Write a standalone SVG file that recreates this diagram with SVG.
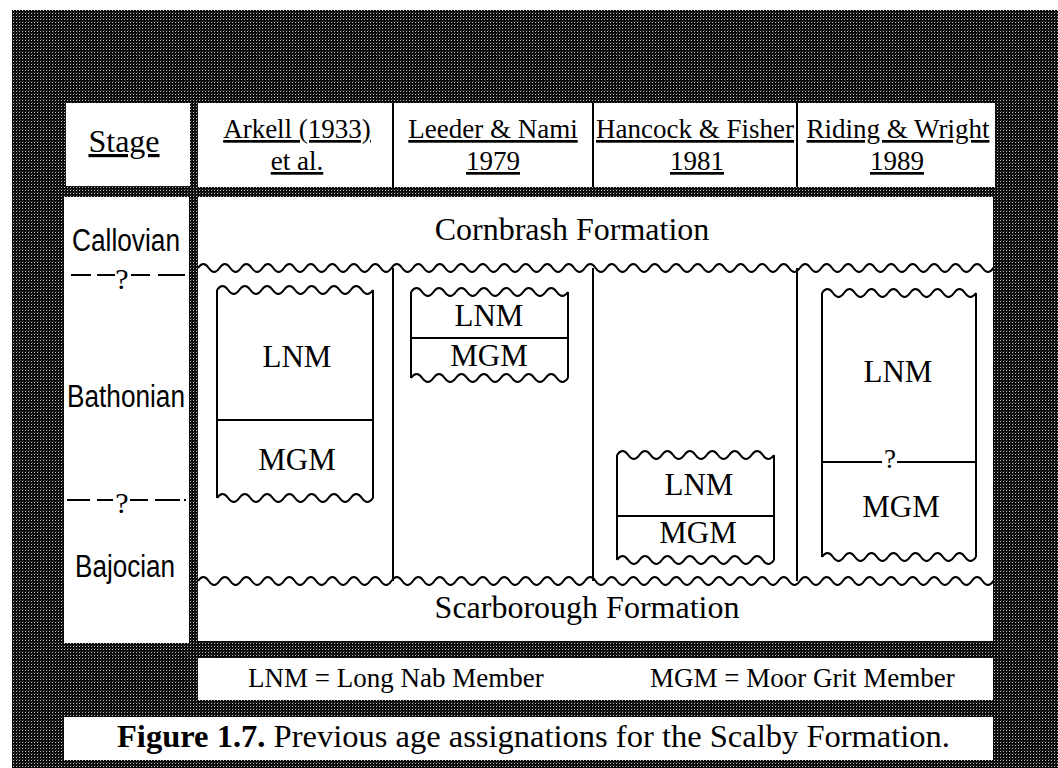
<svg xmlns="http://www.w3.org/2000/svg" xmlns:xlink="http://www.w3.org/1999/xlink" width="1058" height="768" viewBox="0 0 1058 768">
<style>
.ser{font-family:"Liberation Serif","Times New Roman",serif;fill:#000}
.san{font-family:"Liberation Sans",Arial,sans-serif;fill:#000}
.hd{font-size:27px;text-anchor:middle;text-decoration:underline}
.mem{font-size:31px;text-anchor:middle}
.stg{font-size:31px}
.ln{stroke:#000;stroke-width:2;fill:none}
.wv{stroke:#000;stroke-width:2;fill:none;vector-effect:non-scaling-stroke}
</style>
<defs>
<pattern id="dots" width="3" height="3" patternUnits="userSpaceOnUse">
<rect width="3" height="3" fill="#080808"/>
<rect x="1" y="1" width="1" height="1" fill="#c0c0c0"/>
<rect x="2" y="0" width="1" height="1" fill="#3a3a3a"/>
</pattern>
<clipPath id="bodyclip"><rect x="197" y="197" width="797" height="444"/></clipPath>
<path id="w14" d="M0 0 q5.5 -8 11 0 t11 0 11 0 11 0 11 0 11 0 11 0 11 0 11 0 11 0 11 0 11 0 11 0 11 0"/>
<path id="w72" d="M0 0 q5.5 -8 11 0 t11 0 11 0 11 0 11 0 11 0 11 0 11 0 11 0 11 0 11 0 11 0 11 0 11 0 11 0 11 0 11 0 11 0 11 0 11 0 11 0 11 0 11 0 11 0 11 0 11 0 11 0 11 0 11 0 11 0 11 0 11 0 11 0 11 0 11 0 11 0 11 0 11 0 11 0 11 0 11 0 11 0 11 0 11 0 11 0 11 0 11 0 11 0 11 0 11 0 11 0 11 0 11 0 11 0 11 0 11 0 11 0 11 0 11 0 11 0 11 0 11 0 11 0 11 0 11 0 11 0 11 0 11 0 11 0 11 0 11 0 11 0 11 0 11 0 11 0 11 0"/>
</defs>
<rect width="1058" height="768" fill="#fff"/>
<rect x="12" y="10" width="1046" height="758" fill="url(#dots)"/>

<g id="panels">
<rect x="66" y="103" width="124" height="83" fill="#fff"/>
<rect x="198" y="103" width="797" height="84" fill="#fff"/>
<rect x="64" y="197" width="125" height="446" fill="#fff"/>
<rect x="198" y="197" width="795" height="444" fill="#fff"/>
<rect x="198" y="658" width="795" height="42" fill="#fff"/>
<rect x="64" y="717" width="929" height="43" fill="#fff"/>
</g>

<g id="header">
<text class="ser" x="124" y="152" font-size="32" text-anchor="middle" text-decoration="underline">Stage</text>
<text class="ser hd" x="297" y="138">Arkell (1933)</text>
<text class="ser hd" x="297" y="170">et al.</text>
<text class="ser hd" x="493" y="138">Leeder &amp; Nami</text>
<text class="ser hd" x="493" y="170">1979</text>
<text class="ser hd" x="695" y="138">Hancock &amp; Fisher</text>
<text class="ser hd" x="697" y="170">1981</text>
<text class="ser hd" x="898" y="138">Riding &amp; Wright</text>
<text class="ser hd" x="897" y="170">1989</text>
<line class="ln" x1="393" y1="103" x2="393" y2="187"/>
<line class="ln" x1="593" y1="103" x2="593" y2="187"/>
<line class="ln" x1="797" y1="103" x2="797" y2="187"/>
</g>

<g id="stages">
<text class="san stg" x="72" y="251" textLength="108" lengthAdjust="spacingAndGlyphs">Callovian</text>
<text class="san stg" x="67" y="407" textLength="118" lengthAdjust="spacingAndGlyphs">Bathonian</text>
<text class="san stg" x="75" y="577" textLength="100" lengthAdjust="spacingAndGlyphs">Bajocian</text>
<path class="ln" d="M71 275 H91 M97 275 H115 M131 275 H150 M158 275 H185"/>
<text class="ser" x="122" y="289" font-size="30" text-anchor="middle">?</text>
<path class="ln" d="M67 500 H90 M97 500 H113 M130 500 H148 M155 500 H180 M184 500 H186"/>
<text class="ser" x="122" y="513" font-size="30" text-anchor="middle">?</text>
</g>

<g id="formations">
<text class="ser" x="572" y="240" font-size="32" text-anchor="middle">Cornbrash Formation</text>
<text class="ser" x="587" y="618" font-size="32" text-anchor="middle">Scarborough Formation</text>
</g>

<g id="connectors">
<g clip-path="url(#bodyclip)">
<use href="#w72" class="wv" transform="translate(198 268) scale(0.977 1)"/>
<use href="#w72" class="wv" transform="translate(198 581) scale(0.977 1)"/>
</g>
<line class="ln" x1="393" y1="268" x2="393" y2="581"/>
<line class="ln" x1="593" y1="268" x2="593" y2="581"/>
<line class="ln" x1="797" y1="268" x2="797" y2="581"/>
</g>

<g id="arkell">
<use href="#w14" class="wv" transform="translate(217 290) scale(1.013 1)"/>
<use href="#w14" class="wv" transform="translate(217 498) scale(1.013 1)"/>
<path class="ln" d="M217 290 V498 M373 290 V498 M217 420 H373"/>
<text class="ser mem" x="297" y="367">LNM</text>
<text class="ser mem" x="297" y="470">MGM</text>
</g>

<g id="leeder">
<use href="#w14" class="wv" transform="translate(411 292) scale(1.0195 1)"/>
<use href="#w14" class="wv" transform="translate(411 378) scale(1.0195 1)"/>
<path class="ln" d="M411 292 V378 M568 292 V378 M411 338 H568"/>
<text class="ser mem" x="489" y="326">LNM</text>
<text class="ser mem" x="489" y="366">MGM</text>
</g>

<g id="hancock">
<use href="#w14" class="wv" transform="translate(617 455) scale(1.0195 1)"/>
<use href="#w14" class="wv" transform="translate(617 560) scale(1.0195 1)"/>
<path class="ln" d="M617 455 V560 M774 455 V560 M617 516 H774"/>
<text class="ser mem" x="699" y="495">LNM</text>
<text class="ser mem" x="698" y="543">MGM</text>
</g>

<g id="riding">
<use href="#w14" class="wv" transform="translate(822 293)"/>
<use href="#w14" class="wv" transform="translate(822 557)"/>
<path class="ln" d="M822 293 V557 M976 293 V557 M822 462 H882 M897 462 H976"/>
<text class="ser" x="890" y="468" font-size="27" text-anchor="middle">?</text>
<text class="ser mem" x="898" y="382">LNM</text>
<text class="ser mem" x="901" y="517">MGM</text>
</g>

<g id="legend">
<text class="ser" x="248" y="687" font-size="27">LNM = Long Nab Member</text>
<text class="ser" x="650" y="687" font-size="27">MGM = Moor Grit Member</text>
</g>

<g id="caption">
<text class="ser" x="117" y="747" font-size="32" textLength="833" lengthAdjust="spacingAndGlyphs"><tspan font-weight="bold">Figure 1.7.</tspan> Previous age assignations for the Scalby Formation.</text>
</g>
</svg>
